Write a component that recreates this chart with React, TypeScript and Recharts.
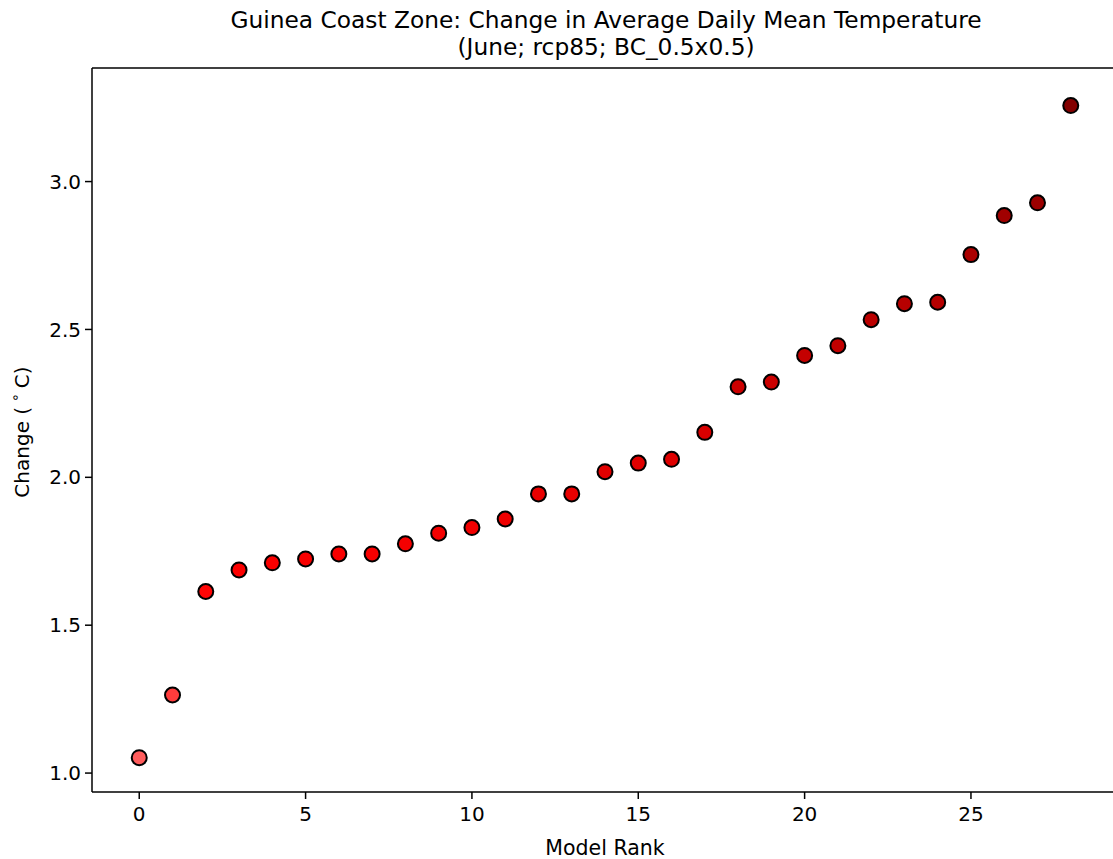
import { ScatterChart, Scatter, XAxis, YAxis, Cell, ReferenceLine } from 'recharts';

const ranks = [0, 1, 2, 3, 4, 5, 6, 7, 8, 9, 10, 11, 12, 13, 14, 15, 16, 17, 18, 19, 20, 21, 22, 23, 24, 25, 26, 27, 28];
const changes = [
  1.052, 1.264, 1.614, 1.687, 1.711, 1.724, 1.741, 1.741, 1.775, 1.811,
  1.83, 1.859, 1.944, 1.944, 2.019, 2.048, 2.061, 2.152, 2.306, 2.322,
  2.412, 2.445, 2.533, 2.587, 2.592, 2.753, 2.885, 2.928, 3.257
];
const xTicks = [0, 5, 10, 15, 20, 25];
const yTicks = [1.0, 1.5, 2.0, 2.5, 3.0];

const data = ranks.map((r, i) => ({ rank: r, change: changes[i] }));

const FONT = '"DejaVu Sans", sans-serif';
const X_DOMAIN: [number, number] = [-1.42, 29.42];
const Y_DOMAIN: [number, number] = [0.936, 3.384];

// seismic-like colormap, upper half (white -> red -> dark red)
function seismic(v: number) {
  const c = 0.5 + v / (2 * 3.3);
  if (c <= 0.75) {
    const t = (c - 0.5) / 0.25;
    const g = Math.round(255 * (1 - t));
    return `rgb(255,${g},${g})`;
  }
  const t = Math.min(1, (c - 0.75) / 0.25);
  return `rgb(${Math.round(255 * (1 - 0.5 * t))},0,0)`;
}

const Dot = (props: any) => (
  <circle cx={props.cx} cy={props.cy} r={7.5} fill={props.fill} stroke="#000" strokeWidth={2} />
);

const YLabel = () => (
  <text x={22} y={432} transform="rotate(-90 22 432)" textAnchor="middle" dominantBaseline="central"
    fontFamily={FONT} fontSize={20} fill="#000">
    Change (<tspan dx={5} fontSize={14} dy={-7}>∘</tspan><tspan dx={5} dy={7}>C)</tspan>
  </text>
);

export default function App() {
  return (
    <div style={{ position: 'absolute', left: 0, top: 0, width: 1113, height: 859, overflow: 'hidden', background: '#fff' }}>
      <div style={{ position: 'absolute', left: 0, width: 1212, top: 6, textAlign: 'center', fontFamily: FONT, fontSize: 23.3, lineHeight: '27px', color: '#000' }}>
        Guinea Coast Zone: Change in Average Daily Mean Temperature<br />(June; rcp85; BC_0.5x0.5)
      </div>
      <ScatterChart width={1118} height={859} margin={{ top: 68, right: 0, bottom: 0, left: 0 }}>
        <XAxis
          dataKey="rank"
          type="number"
          domain={X_DOMAIN}
          allowDataOverflow
          ticks={xTicks}
          height={67}
          axisLine={{ stroke: '#000', strokeWidth: 1.5 }}
          tickLine={{ stroke: '#000', strokeWidth: 1.5 }}
          tickSize={7}
          tick={{ fill: '#000', fontSize: 20, fontFamily: FONT, dy: 6 }}
          label={{ value: 'Model Rank', position: 'insideBottom', offset: 4, fill: '#000', fontSize: 20.5, fontFamily: FONT }}
        />
        <YAxis
          dataKey="change"
          type="number"
          domain={Y_DOMAIN}
          allowDataOverflow
          ticks={yTicks}
          width={92}
          tickFormatter={(v: number) => v.toFixed(1)}
          axisLine={{ stroke: '#000', strokeWidth: 1.5 }}
          tickLine={{ stroke: '#000', strokeWidth: 1.5 }}
          tickSize={7}
          tick={{ fill: '#000', fontSize: 20, fontFamily: FONT, dx: -2 }}
          label={<YLabel />}
        />
        <ReferenceLine y={Y_DOMAIN[1]} stroke="#000" strokeWidth={1.5} ifOverflow="visible" />
        <Scatter data={data} shape={<Dot />} isAnimationActive={false}>
          {data.map((d, i) => (
            <Cell key={`c-${i}`} fill={seismic(d.change)} />
          ))}
        </Scatter>
      </ScatterChart>
    </div>
  );
}
